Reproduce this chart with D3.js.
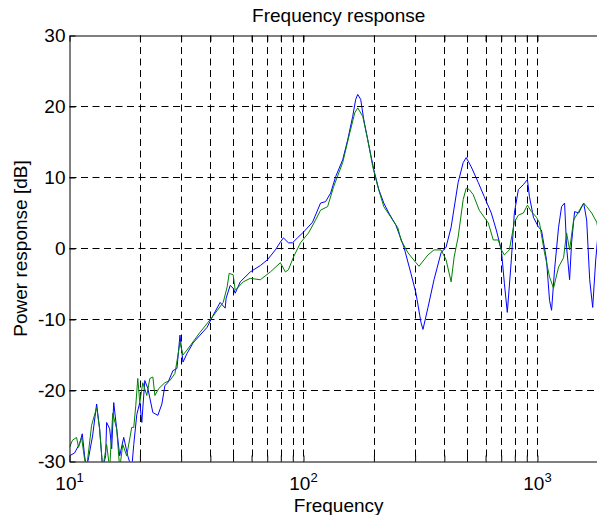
<!DOCTYPE html>
<html>
<head>
<meta charset="utf-8">
<script src="https://cdn.jsdelivr.net/npm/d3@7"></script>
<style>
body{margin:0;background:#fff;}
text{font-family:"Liberation Sans",Arial,sans-serif;fill:#000;}
</style>
</head>
<body>
<div id="chart"></div>
<script>
// values
var yTicks = [-30,-20,-10,0,10,20,30];
var xMajor = [10,100,1000];

var blueFreq = [10.0,10.51,11.04,11.34,11.60,11.83,12.55,13.06,13.45,13.86,14.27,14.41,14.85,15.15,15.45,15.91,16.39,17.05,17.74,18.45,18.82,19.39,19.97,20.37,20.98,21.62,22.71,23.86,24.82,25.57,26.33,27.67,28.79,29.66,30.55,31.78,33.72,36.14,38.73,41.10,44.04,46.27,46.72,48.61,50.07,51.07,53.66,59.24,65.40,70.08,75.83,79.66,82.07,86.21,89.74,94.24,100,109.3,118.3,124.3,130.6,137.2,147.1,154.5,162.3,167.2,170.6,175.6,180.9,190.1,199.8,209.9,220.4,231.6,248.2,268.7,287.9,302.5,317.8,324.1,340.5,361.3,387.3,406.9,427.5,458.1,481.4,496.0,521.1,558.3,592.3,634.8,666.8,700.9,722.0,743.2,773.3,796.6,828.8,870.8,906.0,924.1,961.2,1010,1040,1093,1126,1149,1183,1231,1268,1306,1332,1372,1399,1441,1500,1576,1623,1672,1722,1774,1810];
var blueDb = [-29.2,-28.8,-27.5,-26.1,-29.2,-31,-26.4,-21.9,-25.4,-31,-29.2,-24.5,-25.4,-28.2,-21.7,-25.4,-29.2,-26.6,-29.2,-31,-27.6,-23.4,-21.7,-24.5,-18.6,-19.7,-23.1,-23.5,-21.9,-19.3,-18.9,-17.2,-16.9,-12.2,-16.0,-14.8,-13.3,-12.2,-11.1,-9.4,-7.6,-8.4,-7.0,-5.2,-5.6,-6.3,-4.7,-3.3,-2.4,-1.6,-0.2,0.9,1.5,0.8,0.8,1.5,2.3,3.7,6.4,6.6,7.8,10.1,12.5,15.3,18.6,21.0,21.7,21.0,18.2,14.6,11.1,8.3,6.4,5.0,3.3,0.2,-3.5,-6.3,-10.4,-11.4,-8.3,-4.4,-0.6,0.2,3.0,9.3,12.1,12.8,11.5,9.3,7.3,5.0,2.6,-0.2,-4.9,-9.0,-1.6,5.0,8.3,9.0,9.7,7.3,4.4,3.0,2.6,-1.6,-7.3,-8.7,-3.0,3.0,5.9,6.4,0.2,-4.4,0.8,5.2,5.0,6.4,4.0,-4.4,-8.3,-1.6,1.6];

var greenFreq = [10.0,10.30,10.72,10.93,11.26,11.60,11.83,12.43,13.06,13.45,13.86,14.41,14.85,15.30,15.91,16.39,16.89,17.56,18.45,18.82,19.20,19.58,19.97,20.57,21.40,22.04,22.71,23.17,24.10,25.57,26.87,28.22,29.08,29.66,30.55,31.78,36.14,41.10,45.37,47.19,48.13,50.07,51.07,55.27,59.24,65.40,72.20,79.66,83.69,86.21,90.63,97.07,105.1,112.6,118.3,126.8,134.5,147.1,156.1,165.6,170.6,179.2,188.2,197.8,207.8,220.4,236.3,253.2,260.9,279.5,302.5,311.6,340.5,361.3,387.3,406.9,427.5,440.4,458.1,481.4,496.0,510.9,531.3,563.8,616.3,647.4,680.4,700.9,722.0,758.1,796.6,828.8,870.8,906.0,942.4,990.1,1020,1072,1126,1171,1231,1293,1332,1372,1427,1500,1576,1623,1705,1792,1828];
var greenDb = [-28.0,-27.0,-26.6,-28.0,-26.6,-29.7,-31,-24.9,-22.4,-25.4,-31,-27.6,-31,-23.2,-25.4,-31,-27.6,-29.2,-25.2,-25.2,-22.1,-18.3,-21.7,-18.9,-20.7,-18.3,-18.1,-20.7,-19.7,-18.9,-18.6,-17.6,-15.0,-13.2,-15.0,-14.3,-11.8,-9.5,-7.6,-5.4,-3.5,-3.7,-5.9,-4.7,-4.2,-4.4,-3.3,-2.0,-3.3,-3.0,-1.2,0.8,2.2,4.0,5.4,5.9,8.7,12.1,15.7,19.1,19.8,18.6,15.3,11.5,8.7,5.9,4.4,2.9,1.2,-0.6,-2.0,-2.5,-0.9,-0.2,-0.2,-1.6,-4.7,-1.2,1.6,6.9,8.5,8.3,7.6,5.4,3.6,1.2,1.2,-0.2,-0.9,-0.2,3.7,4.7,5.0,6.1,5.2,4.4,3.6,-0.6,-4.0,-5.6,-2.6,-1.3,2.2,-0.2,4.0,5.2,6.4,5.9,5.0,3.7,2.2];

var width = 597, height = 515;
var padL = 69.5, padR = 607.9, padT = 35.5, padB = 461.5;

var svg = d3.select("#chart").append("svg")
    .attr("width", width)
    .attr("height", height);

var x = d3.scaleLog().domain([10, 2000]).range([padL, padR]);
var y = d3.scaleLinear().domain([-30, 30]).range([padB, padT]);

var minor = [];
xMajor.forEach(function(d){
    for (var k = 2; k < 10; k++) { if (d * k <= 2000) minor.push(d * k); }
});

// dashed grid
var grid = svg.append("g").attr("stroke", "#000").attr("stroke-width", 1).attr("stroke-dasharray", "7,4.5");
grid.selectAll("line.v")
    .data(minor.concat([100, 1000]))
    .enter().append("line")
    .attr("class", "v")
    .attr("x1", function(d){ return Math.round(x(d)) + 0.5; })
    .attr("x2", function(d){ return Math.round(x(d)) + 0.5; })
    .attr("y1", padT).attr("y2", padB);
grid.selectAll("line.h")
    .data(yTicks.slice(1, -1))
    .enter().append("line")
    .attr("class", "h")
    .attr("x1", padL).attr("x2", padR)
    .attr("y1", function(d){ return y(d); })
    .attr("y2", function(d){ return y(d); });

// curves
svg.append("clipPath").attr("id", "plotClip")
    .append("rect")
    .attr("x", padL).attr("y", padT)
    .attr("width", padR - padL).attr("height", padB - padT);

var line = d3.line()
    .x(function(d){ return x(d[0]); })
    .y(function(d){ return y(d[1]); });

svg.append("path")
    .datum(d3.zip(blueFreq, blueDb))
    .attr("clip-path", "url(#plotClip)")
    .attr("fill", "none")
    .attr("stroke", "#0000ff")
    .attr("stroke-width", 1)
    .attr("d", line);

svg.append("path")
    .datum(d3.zip(greenFreq, greenDb))
    .attr("clip-path", "url(#plotClip)")
    .attr("fill", "none")
    .attr("stroke", "#008000")
    .attr("stroke-width", 1)
    .attr("d", line);

// axes, ticks pointing in
var allX = xMajor.concat(minor);
var xb = svg.append("g").attr("transform", "translate(0," + padB + ")")
    .call(d3.axisBottom(x).tickValues(allX).tickSize(-6).tickSizeOuter(0).tickFormat(""));
var xt = svg.append("g").attr("transform", "translate(0," + padT + ")")
    .call(d3.axisTop(x).tickValues(allX).tickSize(-6).tickSizeOuter(0).tickFormat(""));
var yl = svg.append("g").attr("transform", "translate(" + padL + ",0)")
    .call(d3.axisLeft(y).tickValues(yTicks).tickSize(-6).tickSizeOuter(0).tickPadding(4)
        .tickFormat(function(d){ return String(d); }));

[xb, xt, yl].forEach(function(g){
    g.selectAll("path,line").attr("stroke", "#000");
});
yl.selectAll("text")
    .attr("font-size", 19)
    .attr("font-family", "Liberation Sans, Arial, sans-serif")
    .attr("fill", "#000");

// x tick labels 10^n
var xl = svg.selectAll("text.xlab")
    .data(xMajor)
    .enter().append("text")
    .attr("class", "xlab")
    .attr("x", function(d){ return x(d); })
    .attr("y", 490)
    .attr("text-anchor", "middle")
    .attr("font-size", 19);
xl.append("tspan").text("10");
xl.append("tspan")
    .attr("dy", -8)
    .attr("font-size", 13)
    .text(function(d){ return Math.round(Math.log10(d)); });

svg.append("text")
    .attr("x", (padL + padR) / 2)
    .attr("y", 22)
    .attr("text-anchor", "middle")
    .attr("font-size", 19)
    .text("Frequency response");

svg.append("text")
    .attr("x", (padL + padR) / 2)
    .attr("y", 512)
    .attr("text-anchor", "middle")
    .attr("font-size", 19)
    .text("Frequency");

svg.append("text")
    .attr("transform", "translate(27," + ((padT + padB) / 2) + ") rotate(-90)")
    .attr("text-anchor", "middle")
    .attr("font-size", 19)
    .text("Power response [dB]");
</script>
</body>
</html>
